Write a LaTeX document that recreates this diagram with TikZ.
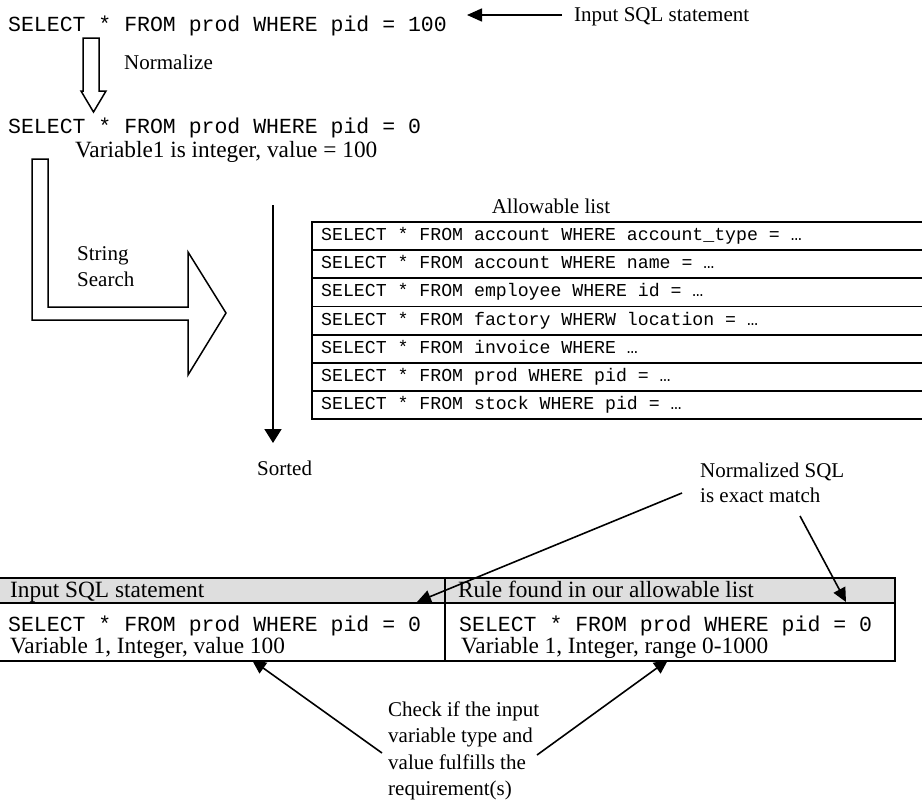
\documentclass[tikz,border=0pt]{standalone}
\usepackage{fontspec}
\setmainfont{Liberation Serif}
\setmonofont{Liberation Mono}
\usetikzlibrary{arrows.meta}
\tikzset{
  lbl/.style={inner sep=0pt, anchor=base west, font=\fontsize{21}{25}\selectfont},
  big/.style={inner sep=0pt, anchor=base west, font=\fontsize{23.3}{28}\selectfont},
  code/.style={inner sep=0pt, anchor=base west, font=\fontsize{21.5}{26}\selectfont\ttfamily},
  listcode/.style={inner sep=0pt, anchor=base west, font=\fontsize{18.2}{22}\selectfont\ttfamily},
  arr/.style={line width=1.6pt, -{Triangle[length=14pt,width=13pt]}},
  hollow/.style={line width=1.5pt, fill=white, line join=miter},
  rowbox/.style={draw, line width=1.8pt, inner sep=0pt, anchor=north west, minimum height=28.2pt, minimum width=700pt},
  tabline/.style={line width=1.8pt}
}
\begin{document}
\begin{tikzpicture}[x=1pt,y=-1pt]
\useasboundingbox (0,0) rectangle (922,803);
\clip (0,0) rectangle (922,803);

% top statement
\node[code] (sql1) at (8,31) {SELECT * FROM prod WHERE pid = 100};
\node[lbl] (inlbl) at (574,21) {Input SQL statement};
\coordinate (inS) at (562,15);
\coordinate (inE) at (467,15);
\draw[arr, -{Triangle[length=15pt,width=13pt]}] (inS) -- (inE);

% normalize hollow arrow
\draw[hollow] (83,38) -- (99,38) -- (99,91) -- (106,91) -- (93.5,112) -- (81,91) -- (83,91) -- cycle;
\node[lbl] (norm) at (124,69) {Normalize};

% normalized statement
\node[code] (sql2) at (8,133) {SELECT * FROM prod WHERE pid = 0};
\node[big] (var1) at (75,157) {Variable1 is integer, value = 100};

% string search hollow L arrow
\draw[hollow] (32,159) -- (48,159) -- (48,307) -- (188,307) -- (188,252) -- (226,313) -- (188,375) -- (188,320) -- (32,320) -- cycle;
\node[lbl] (str1) at (77,260) {String};
\node[lbl] (str2) at (77,286) {Search};

% sorted arrow
\coordinate (sortS) at (273,205);
\coordinate (sortE) at (273,443);
\draw[line width=1.8pt, -{Triangle[length=14pt,width=17pt]}] (sortS) -- (sortE);
\node[lbl] (sorted) at (257,475) {Sorted};

% allowable list
\node[lbl, anchor=base] (allow) at (551,213) {Allowable list};
\foreach \i/\t in {0/{SELECT * FROM account WHERE account\_type = …},
                   1/{SELECT * FROM account WHERE name = …},
                   2/{SELECT * FROM employee WHERE id = …},
                   3/{SELECT * FROM factory WHERW location = …},
                   4/{SELECT * FROM invoice WHERE …},
                   5/{SELECT * FROM prod WHERE pid = …},
                   6/{SELECT * FROM stock WHERE pid = …}}{
  \node[rowbox] (row\i) at (311,{221+28.2*\i}) {};
  \node[listcode] (rowt\i) at (321,{221+28.2*\i+19.5}) {\t};
}

% normalized SQL label
\node[lbl] (nsql1) at (700,477) {Normalized SQL};
\node[lbl] (nsql2) at (700,502) {is exact match};

% table
\fill[black!13] (-5,578) rectangle (895,603);
\draw[tabline] (-5,578) rectangle (895,661);
\draw[tabline] (-5,603) -- (895,603);
\draw[tabline] (445,578) -- (445,661);
\node[big] (th1) at (10,597) {Input SQL statement};
\node[big] (th2) at (458,597) {Rule found in our allowable list};
\node[code] (tsql1) at (8,631) {SELECT * FROM prod WHERE pid = 0};
\node[big] (tvar1) at (10,653) {Variable 1, Integer, value 100};
\node[code] (tsql2) at (459,631) {SELECT * FROM prod WHERE pid = 0};
\node[big] (tvar2) at (461,653) {Variable 1, Integer, range 0-1000};

% normalized arrows
\coordinate (m1S) at (682,493);
\coordinate (m1E) at (417,602);
\coordinate (m2S) at (800,516);
\coordinate (m2E) at (846,602);
\draw[arr] (m1S) -- (m1E);
\draw[arr] (m2S) -- (m2E);

% check text
\node[lbl] (c1) at (388,716) {Check if the input};
\node[lbl] (c2) at (388,742) {variable type and};
\node[lbl] (c3) at (388,769) {value fulfills the};
\node[lbl] (c4) at (388,795) {requirement(s)};
\coordinate (k1S) at (382,753);
\coordinate (k1E) at (252,660);
\coordinate (k2S) at (537,755);
\coordinate (k2E) at (668,660);
\draw[arr] (k1S) -- (k1E);
\draw[arr] (k2S) -- (k2E);
\end{tikzpicture}
\end{document}
